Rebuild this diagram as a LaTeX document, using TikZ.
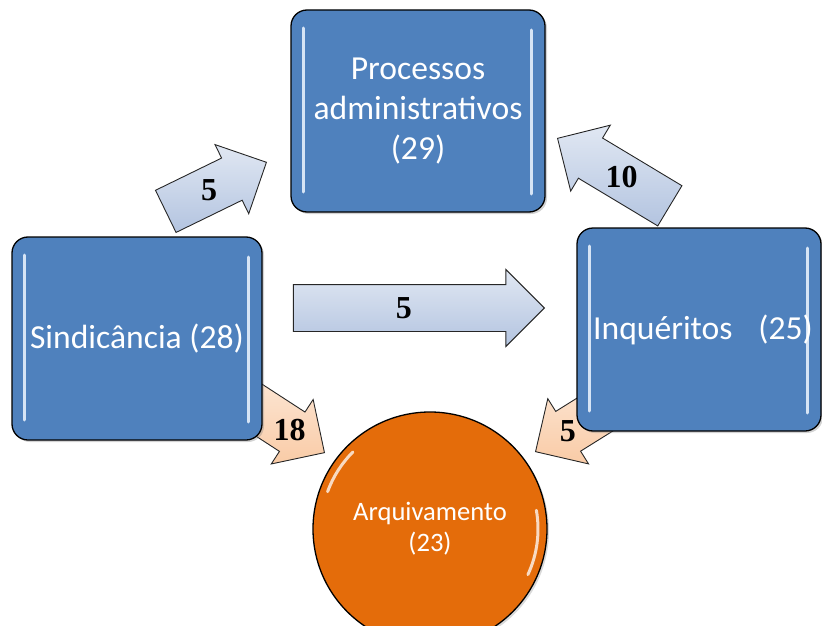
\documentclass[tikz,border=0pt]{standalone}
\usepackage{fontspec}
\setmainfont{Carlito}
\newfontfamily\numfont{Liberation Serif}
\usetikzlibrary{shapes.arrows}
\usetikzlibrary{shadows}
\usetikzlibrary{calc}

\definecolor{boxblue}{HTML}{4F81BD}
\definecolor{boxshine}{HTML}{D6E4F5}
\definecolor{arrowblue}{HTML}{B3C4E0}
\definecolor{arrowpeach}{HTML}{F9CBA6}
\definecolor{sinkorange}{HTML}{E46C0A}

\begin{document}
\begin{tikzpicture}[
    x=1pt, y=-1pt,
    shine/.style={boxshine, line width=3pt, line cap=round},
    glow/.style={sinkorange!25!white, line width=3pt, line cap=round},
    stage/.style={
        rectangle, rounded corners=16pt,
        draw=black, line width=1.3pt, fill=boxblue,
        text=white, align=center, inner sep=0pt,
        font=\fontsize{33.6}{40}\selectfont,
        drop shadow={opacity=0.35, shadow xshift=2pt, shadow yshift=-2pt},
        path picture={
            \draw[shine] ([xshift=12pt,yshift=-18pt]path picture bounding box.north west)
                -- ([xshift=12pt,yshift=20pt]path picture bounding box.south west);
            \draw[shine] ([xshift=-14pt,yshift=-20pt]path picture bounding box.north east)
                -- ([xshift=-14pt,yshift=18pt]path picture bounding box.south east);
        }
    },
    sink/.style={
        circle, draw=black, line width=1.3pt, fill=sinkorange,
        minimum size=234pt, inner sep=0pt,
        text=white, align=center,
        font=\fontsize{26.6}{31}\selectfont,
        drop shadow={opacity=0.3, shadow xshift=2pt, shadow yshift=-2pt},
        path picture={
            \draw[glow] ($(path picture bounding box.center)+(135:109pt)$)
                arc[start angle=135, end angle=160, radius=109pt];
            \draw[glow] ($(path picture bounding box.center)+(-25:108pt)$)
                arc[start angle=-25, end angle=10, radius=108pt];
        }
    },
    flow/.style={
        single arrow, draw=black!85, line width=0.9pt,
        single arrow head extend=15pt,
        inner xsep=0pt, inner ysep=23pt,
        anchor=tip
    },
    blueflow/.style={flow, top color=arrowblue!40!white, bottom color=arrowblue},
    peachflow/.style={flow, top color=arrowpeach!45!white, bottom color=arrowpeach},
    count/.style={font=\numfont\bfseries\fontsize{32}{32}\selectfont, inner sep=0pt}
]
\useasboundingbox (0,0) rectangle (822,626);

% arrows that run under the boxes
\node[peachflow, minimum height=110pt, rotate=-33] (f4) at (325,453) {};
\node[peachflow, minimum height=110pt, rotate=212] (f5) at (535,452) {};

% boxes
\node[stage, minimum width=254pt, minimum height=202pt] (proc) at (418,111)
    {Processos\\administrativos\\(29)};
\node[stage, minimum width=250pt, minimum height=203pt] (sind) at (137,338.5)
    {Sindicância (28)};
\node[stage, minimum width=244pt, minimum height=203pt] (inq) at (699,329.5)
    {\hspace{8pt}Inquéritos\hspace{0.77em}(25)};
\node[sink] (arq) at (430,529) {Arquivamento\\(23)};

% arrows between the boxes
\node[blueflow, minimum height=112pt, rotate=26] (f1) at (267,162) {};
\node[blueflow, minimum height=251pt] (f2) at (545,308) {};
\node[blueflow, minimum height=131pt, rotate=149] (f3) at (557,138) {};

% counts
\node[count] (n1) at ($(f1.tail)!0.43!(f1.tip)$) {5};
\node[count] (n2) at ($(f2.tail)!0.44!(f2.tip)$) {5};
\node[count] (n3) at ($(f3.tail)!0.43!(f3.tip)$) {10};
\node[count] (n4) at ($(f4.tail)!0.62!(f4.tip)$) {18};
\node[count] (n5) at ($(f5.tail)!0.65!(f5.tip)$) {5};
\end{tikzpicture}
\end{document}
